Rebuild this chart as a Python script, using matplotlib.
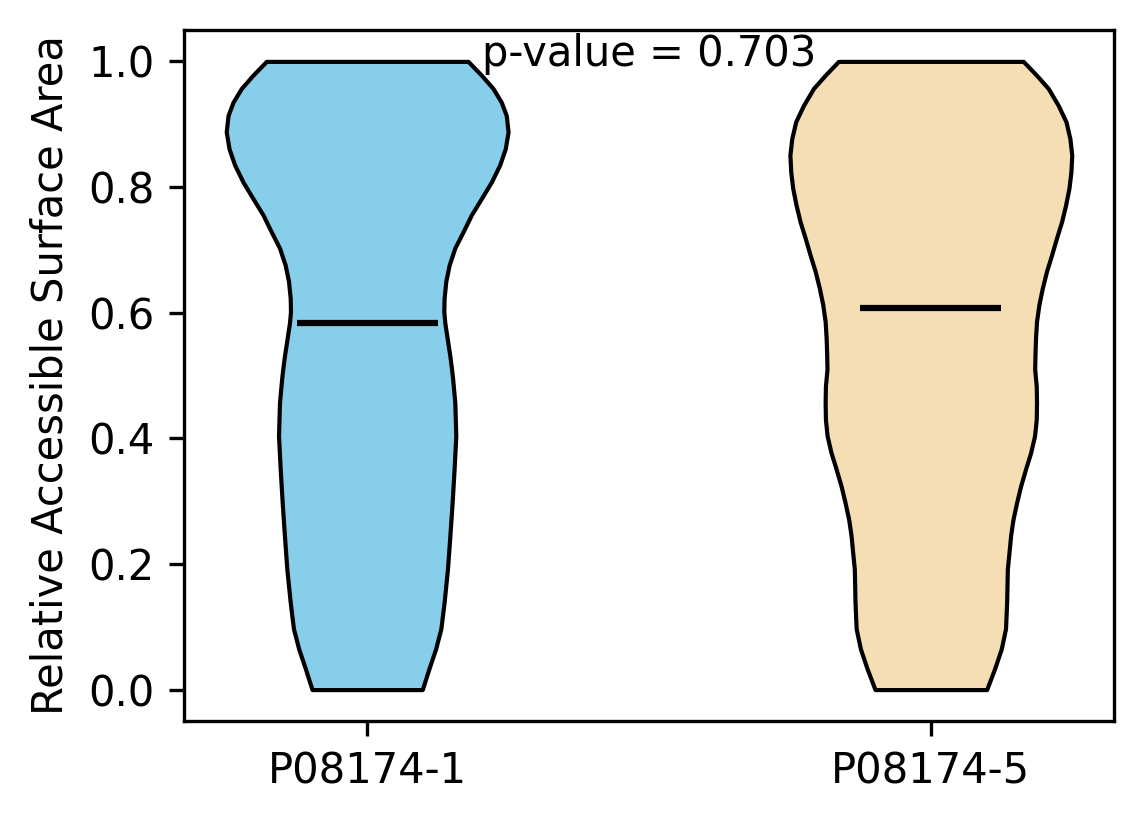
import matplotlib
matplotlib.use("Agg")
import matplotlib.pyplot as plt
import numpy as np

# violin outlines (RSA value, relative density)
labels = ["P08174-1", "P08174-5"]
colors = ["skyblue", "wheat"]

rsa1 = [1.000, 0.978, 0.957, 0.935, 0.914, 0.888, 0.861, 0.835, 0.808, 0.782,
        0.756, 0.729, 0.703, 0.676, 0.650, 0.623, 0.602, 0.584, 0.531, 0.510,
        0.494, 0.457, 0.404, 0.351, 0.298, 0.245, 0.192, 0.139, 0.097, 0.065,
        0.033, 0.000]
dens1 = [0.716, 0.811, 0.893, 0.952, 0.987, 1.000, 0.980, 0.940, 0.881, 0.811,
         0.740, 0.681, 0.622, 0.582, 0.558, 0.546, 0.544, 0.551, 0.587, 0.599,
         0.607, 0.622, 0.629, 0.617, 0.603, 0.587, 0.570, 0.546, 0.523, 0.486,
         0.438, 0.391]

rsa2 = [1.000, 0.978, 0.957, 0.930, 0.904, 0.877, 0.851, 0.824, 0.798, 0.771,
        0.745, 0.719, 0.692, 0.666, 0.639, 0.613, 0.586, 0.560, 0.533, 0.510,
        0.483, 0.457, 0.430, 0.404, 0.377, 0.351, 0.324, 0.298, 0.271, 0.245,
        0.219, 0.192, 0.139, 0.097, 0.065, 0.033, 0.000]
dens2 = [0.656, 0.750, 0.833, 0.904, 0.959, 0.987, 1.000, 0.994, 0.980, 0.956,
         0.928, 0.892, 0.857, 0.821, 0.791, 0.767, 0.750, 0.743, 0.739, 0.737,
         0.748, 0.750, 0.748, 0.736, 0.708, 0.672, 0.637, 0.609, 0.583, 0.566,
         0.555, 0.543, 0.538, 0.530, 0.500, 0.452, 0.396]

medians = [0.583, 0.608]
p_value = 0.703


def make_stats(coords, vals, med):
    coords = np.array(coords)
    return {"coords": coords, "vals": np.array(vals), "mean": med,
            "median": med, "min": coords.min(), "max": coords.max()}


vpstats = [make_stats(rsa1, dens1, medians[0]),
           make_stats(rsa2, dens2, medians[1])]

fig, ax = plt.subplots(figsize=(11.44 / 3, 8.24 / 3), dpi=300)
fig.subplots_adjust(left=0.1608, right=0.9738, bottom=0.125, top=0.9636)

parts = ax.violin(vpstats, positions=[1, 2], widths=0.5,
                  showmeans=False, showextrema=False, showmedians=True)
for body, c in zip(parts["bodies"], colors):
    body.set_facecolor(c)
    body.set_edgecolor("black")
    body.set_linewidth(1)
    body.set_alpha(1)
parts["cmedians"].set_color("black")
parts["cmedians"].set_linewidth(1.5)

ax.set_xticks([1, 2])
ax.set_xticklabels(labels)
ax.set_ylabel("Relative Accessible Surface Area")
ax.text(1.5, 1.011, "p-value = %.3f" % p_value, ha="center", va="center")

fig.savefig("out.png", dpi=300)
